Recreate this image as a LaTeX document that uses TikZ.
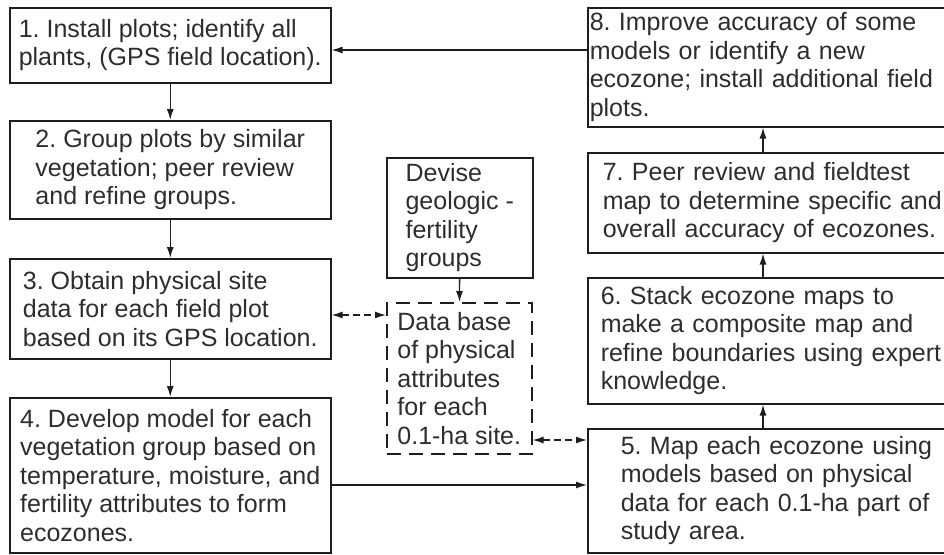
\documentclass[tikz,border=0pt]{standalone}
\usepackage{fontspec}
\setmainfont{Liberation Sans}
\usepackage{tikz}
\usetikzlibrary{arrows.meta}
\definecolor{EcoInk}{RGB}{30, 30, 30}
\definecolor{EcoText}{RGB}{45, 45, 45}
\frenchspacing

\tikzset{
  stepbox/.style={draw=EcoInk, line width=1.5pt, anchor=north west, align=left,
                  inner sep=0pt, text=EcoText, font=\fontsize{25}{28.5}\selectfont},
  widebox/.style={stepbox, text width=380pt},
  databox/.style={stepbox, dash pattern=on 14pt off 8pt},
  flow/.style={draw=EcoInk, line width=1.4pt, -{Latex[length=11pt,width=7pt]}},
  link/.style={flow, {Latex[length=11pt,width=7pt]}-{Latex[length=11pt,width=7pt]},
               dash pattern=on 7pt off 4pt}
}

\begin{document}
\begin{tikzpicture}[x=1pt, y=-1pt]
    \useasboundingbox (0,0) rectangle (944,554);

    % left column: steps 1 to 4
    \node[stepbox, minimum width=321pt, minimum height=75pt] (s1) at (9,7)
      {1. Install plots; identify all\\plants, (GPS field location).};
    \node[stepbox, minimum width=321pt, minimum height=98pt] (s2) at (9,120)
      {2. Group plots by similar\\vegetation; peer review\\and refine groups.};
    \node[stepbox, minimum width=321pt, minimum height=100pt] (s3) at (9,258)
      {3. Obtain physical site\\data for each field plot\\based on its GPS location.};
    \node[stepbox, minimum width=321pt, minimum height=155pt] (s4) at (9,397)
      {4. Develop model for each\\vegetation group based on\\temperature, moisture, and\\fertility attributes to form\\ecozones.};

    % middle column
    \node[stepbox, minimum width=146pt, minimum height=120pt] (geo) at (386,157)
      {Devise\\geologic -\\fertility\\groups};
    \node[databox, minimum width=145pt, minimum height=151pt] (db) at (386,302)
      {Data base\\of physical\\attributes\\for each\\0.1-ha site.};

    % right column: steps 5 to 8
    \node[widebox, inner xsep=33pt, minimum height=124pt] (s5) at (587,428)
      {5. Map each ecozone using\\models based on physical\\data for each 0.1-ha part of\\study area.};
    \node[widebox, inner xsep=13pt, minimum height=126pt] (s6) at (587,277)
      {6. Stack ecozone maps to\\make a composite map and\\refine boundaries using expert\\knowledge.};
    \node[widebox, inner xsep=15pt, minimum height=100pt] (s7) at (587,152)
      {7. Peer review and fieldtest\\map to determine specific and\\overall accuracy of ecozones.};
    \node[widebox, inner xsep=2pt, minimum height=119pt] (s8) at (587,7)
      {8. Improve accuracy of some\\models or identify a new\\ecozone; install additional field\\plots.};

    \coordinate (back) at (0,50);
    \coordinate (across) at (0,485);
    \coordinate (toplink) at (0,315);
    \coordinate (lowlink) at (0,440);
    \coordinate (spine) at (763,0);

    \draw[flow] (s1) -- (s2);
    \draw[flow] (s2) -- (s3);
    \draw[flow] (s3) -- (s4);
    \draw[flow] (s4.east |- across) -- (s5.west |- across);
    \draw[flow] (spine |- s5.north) -- (spine |- s6.south);
    \draw[flow] (spine |- s6.north) -- (spine |- s7.south);
    \draw[flow] (spine |- s7.north) -- (spine |- s8.south);
    \draw[flow] (s8.west |- back) -- (s1.east |- back);
    \draw[flow] (geo) -- (db);

    \draw[link] (s3.east |- toplink) -- (db.west |- toplink);
    \draw[link] (db.east |- lowlink) -- (s5.west |- lowlink);
\end{tikzpicture}
\end{document}
